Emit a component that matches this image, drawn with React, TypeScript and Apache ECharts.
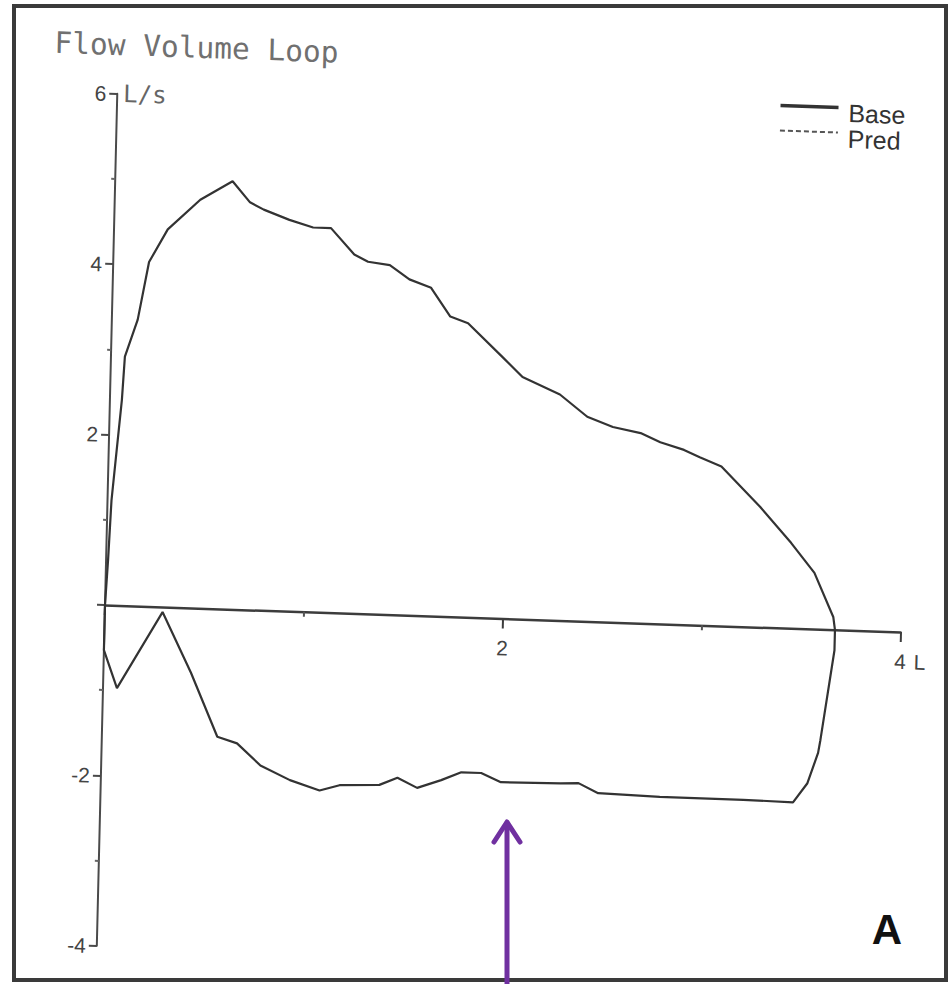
import React, { useEffect, useRef } from "react";
import * as echarts from "echarts";

// Expiratory limb (volume L, flow L/s)
const expVolume = [0, 0.01, 0.02, 0.04, 0.06, 0.07, 0.13, 0.18, 0.27, 0.43, 0.59, 0.68, 0.75, 0.88, 1.0, 1.09, 1.21, 1.28, 1.39, 1.49, 1.6, 1.7, 1.79, 1.97, 2.07, 2.26, 2.4, 2.53, 2.67, 2.77, 2.89, 2.97, 3.08, 3.28, 3.44, 3.56, 3.66, 3.67];
const expFlow = [0, 0.53, 1.23, 1.82, 2.41, 2.92, 3.36, 4.04, 4.43, 4.79, 5.02, 4.78, 4.7, 4.59, 4.51, 4.51, 4.21, 4.13, 4.1, 3.94, 3.85, 3.52, 3.45, 3.06, 2.84, 2.65, 2.4, 2.29, 2.23, 2.13, 2.05, 1.97, 1.87, 1.41, 1.0, 0.66, 0.15, 0.0];

// Inspiratory limb (volume L, flow L/s)
const inspVolume = [3.67, 3.61, 3.6, 3.55, 3.48, 3.23, 2.81, 2.5, 2.4, 2.31, 2.01, 1.91, 1.81, 1.71, 1.59, 1.49, 1.4, 1.2, 1.1, 0.95, 0.8, 0.68, 0.58, 0.44, 0.29, 0.07, 0.0, 0.0];
const inspFlow = [-0.24, -1.3, -1.45, -1.81, -2.04, -2.03, -2.03, -2.01, -1.9, -1.91, -1.92, -1.82, -1.82, -1.92, -2.02, -1.91, -2.0, -2.02, -2.09, -1.98, -1.82, -1.57, -1.5, -0.76, -0.06, -0.97, -0.53, 0.0];

// Predicted loop (not visibly drawn in the printout)
const predVolume: number[] = [];
const predFlow: number[] = [];

const xLabelValues = [2, 4];
const yLabelValues = [-4, -2, 2, 4, 6];

const LABEL_FONT = "Liberation Sans";
const MONO_FONT = "DejaVu Sans Mono";

// legend icons: line sits at the top of the icon box (as in the printout)
const BASE_ICON = "path://M0,0H58V3.5H0Z M0,14L0.01,14Z";
const PRED_ICON =
  "path://M0,0H5V2H0Z M8,0H13V2H8Z M16,0H21V2H16Z M24,0H29V2H24Z M32,0H37V2H32Z M40,0H45V2H40Z M48,0H53V2H48Z M56,0H58V2H56Z M0,14L0.01,14Z";

export default function App() {
  const chartRef = useRef<HTMLDivElement>(null);
  const overlayRef = useRef<HTMLDivElement>(null);

  useEffect(() => {
    const chart = echarts.init(chartRef.current!, null, { renderer: "svg" });
    const overlay = echarts.init(overlayRef.current!, null, { renderer: "svg" });

    const baseData = [
      ...expVolume.map((v, i) => [v, expFlow[i]]),
      ...inspVolume.map((v, i) => [v, inspFlow[i]]),
    ];
    const predData = predVolume.map((v, i) => [v, predFlow[i]]);

    const gridTop = 93.8;
    const gridBottom = 38.2;
    const chartH = 984;
    const yMin = -4;
    const yMax = 6;
    // distance from grid bottom edge up to the zero line
    const zeroOffset = ((0 - yMin) / (yMax - yMin)) * (chartH - gridTop - gridBottom);

    const legendCommon = {
      orient: "vertical",
      left: 768,
      padding: 0,
      itemWidth: 58,
      itemHeight: 14,
      symbolKeepAspect: false,
      itemStyle: { borderWidth: 0 },
      textStyle: {
        fontFamily: LABEL_FONT,
        fontSize: 25,
        lineHeight: 25,
        color: "#333",
        padding: [0, 0, 0, 5],
      },
    };

    chart.setOption({
      animation: false,
      backgroundColor: "#fff",
      title: {
        text: "Flow Volume Loop",
        left: 41,
        top: 30,
        padding: 0,
        textStyle: {
          fontFamily: MONO_FONT,
          fontSize: 29.5,
          fontWeight: "normal",
          color: "#707070",
        },
      },
      legend: [
        { ...legendCommon, data: [{ name: "Base", icon: BASE_ICON }], top: 75.75 },
        { ...legendCommon, data: [{ name: "Pred", icon: PRED_ICON }], top: 101.5 },
      ],
      grid: { left: 105, right: 49.4, top: gridTop, bottom: gridBottom },
      xAxis: {
        type: "value",
        min: 0,
        max: 4,
        interval: 2,
        position: "bottom",
        offset: -zeroOffset,
        splitLine: { show: false },
        axisLine: { onZero: false, lineStyle: { color: "#3c3c3c", width: 2.5 } },
        axisTick: { show: true, length: 10, lineStyle: { color: "#3c3c3c", width: 2 } },
        minorTick: { show: true, splitNumber: 2, length: 5, lineStyle: { color: "#555", width: 2 } },
        axisLabel: {
          showMinLabel: false,
          showMaxLabel: true,
          margin: 19,
          fontFamily: LABEL_FONT,
          fontSize: 21,
          color: "#444",
          formatter: (v: number) => {
            if (!xLabelValues.includes(v)) return "";
            if (v === 4) return "{sp| }{n|" + v + "}{u|L}";
            return String(v);
          },
          rich: {
            sp: { width: 19.7, fontSize: 21, fontFamily: LABEL_FONT },
            n: { fontSize: 21, fontFamily: LABEL_FONT, color: "#444" },
            u: { fontSize: 21, fontFamily: LABEL_FONT, color: "#444", padding: [0, 0, 0, 8] },
          },
        },
      },
      yAxis: {
        type: "value",
        min: yMin,
        max: yMax,
        interval: 2,
        splitLine: { show: false },
        axisLine: { lineStyle: { color: "#4a4a4a", width: 2 } },
        axisTick: { show: true, length: 8, lineStyle: { color: "#4a4a4a", width: 2 } },
        minorTick: { show: true, splitNumber: 2, length: 4, lineStyle: { color: "#666", width: 2 } },
        axisLabel: {
          margin: 11,
          fontFamily: LABEL_FONT,
          fontSize: 21,
          color: "#444",
          formatter: (v: number) => (yLabelValues.includes(v) ? String(v) : ""),
        },
        name: "L/s",
        nameLocation: "end",
        nameGap: 0,
        nameTextStyle: {
          fontFamily: MONO_FONT,
          fontSize: 24,
          color: "#666",
          align: "left",
          verticalAlign: "middle",
          padding: [0, 0, 0, 6],
        },
      },
      series: [
        {
          name: "Base",
          type: "line",
          data: baseData,
          symbol: "none",
          showSymbol: false,
          smooth: false,
          itemStyle: { color: "#333" },
          lineStyle: { color: "#333", width: 2.2 },
        },
        {
          name: "Pred",
          type: "line",
          data: predData,
          symbol: "none",
          showSymbol: false,
          itemStyle: { color: "#555" },
          lineStyle: { color: "#555", width: 1.5, type: "dashed" },
        },
      ],
    });

    overlay.setOption({
      animation: false,
      graphic: [
        {
          type: "rect",
          shape: { x: 14, y: 6, width: 932, height: 974 },
          style: { fill: "none", stroke: "#3a3a3a", lineWidth: 4 },
        },
        {
          type: "line",
          shape: { x1: 507, y1: 984, x2: 507, y2: 823 },
          style: { stroke: "#7030a0", lineWidth: 5, lineCap: "round" },
        },
        {
          type: "polyline",
          shape: { points: [[494, 842], [507, 822], [520, 842]] },
          style: { stroke: "#7030a0", lineWidth: 5, lineCap: "round", lineJoin: "round", fill: "none" },
        },
        {
          type: "text",
          x: 887,
          y: 929,
          style: {
            text: "A",
            fontFamily: LABEL_FONT,
            fontSize: 42,
            fontWeight: "bold",
            fill: "#111",
            align: "center",
            verticalAlign: "middle",
          },
        },
      ],
    });

    return () => {
      chart.dispose();
      overlay.dispose();
    };
  }, []);

  return (
    <div
      style={{
        position: "fixed",
        left: 0,
        top: 0,
        width: 950,
        height: 984,
        background: "#fff",
        overflow: "hidden",
      }}
    >
      <div
        ref={chartRef}
        style={{
          position: "absolute",
          left: 0,
          top: 0,
          width: 950,
          height: 984,
          transform: "matrix(1, 0.034, -0.024, 1, 0, 0)",
          transformOrigin: "105px 605px",
        }}
      />
      <div
        ref={overlayRef}
        style={{
          position: "absolute",
          left: 0,
          top: 0,
          width: 950,
          height: 984,
          pointerEvents: "none",
        }}
      />
    </div>
  );
}
